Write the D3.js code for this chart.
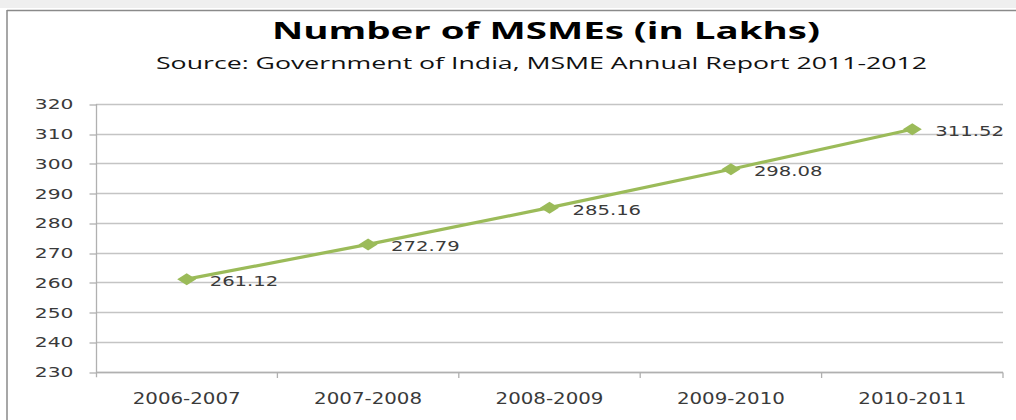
<!DOCTYPE html>
<html>
<head>
<meta charset="utf-8">
<script src="https://cdn.jsdelivr.net/npm/d3@7"></script>
<style>
  html, body { margin: 0; padding: 0; background: #fff; }
  svg { display: block; }
</style>
</head>
<body>
<svg id="chart" width="1016" height="420"></svg>
<script>
// ---- data ----
const categories = ["2006-2007", "2007-2008", "2008-2009", "2009-2010", "2010-2011"];
const msmeValues = [261.12, 272.79, 285.16, 298.08, 311.52];
const yTicks = [230, 240, 250, 260, 270, 280, 290, 300, 310, 320];
const titleText = "Number of MSMEs (in Lakhs)";
const subtitleText = "Source: Government of India, MSME Annual Report 2011-2012";

(function () {
const svg = d3.select("#chart");
const W = 1016, H = 420;

// frame
svg.append("rect").attr("x", 0).attr("y", 0).attr("width", W).attr("height", 8).attr("fill", "#efefef");
svg.append("line").attr("x1", 7).attr("x2", W).attr("y1", 10.5).attr("y2", 10.5)
  .attr("stroke", "#8a8a8a").attr("stroke-width", 1.5);
svg.append("line").attr("x1", 7).attr("x2", 7).attr("y1", 10).attr("y2", H)
  .attr("stroke", "#8a8a8a").attr("stroke-width", 1.5);

const pL = 96, pR = 1003, pT = 104, pB = 371.7;
const x = d3.scaleBand().domain(categories).range([pL, pR]);
const y = d3.scaleLinear().domain([230, 320]).range([pB, pT]);

function stretch(sel, factor) {
  sel.each(function() {
    const len = this.getComputedTextLength();
    d3.select(this).attr("textLength", len * factor).attr("lengthAdjust", "spacingAndGlyphs");
  });
}

// gridlines
const grid = svg.append("g").attr("class", "grid");
grid.selectAll("line").data(yTicks).join("line")
  .attr("x1", pL).attr("x2", pR)
  .attr("y1", d => Math.round(y(d)) + 0.5).attr("y2", d => Math.round(y(d)) + 0.5)
  .attr("stroke", "#c4c4c4").attr("stroke-width", 1.3);

// y axis
const yAxis = d3.axisLeft(y).tickValues(yTicks).tickSize(7).tickPadding(16).tickFormat(d3.format("d"));
const gy = svg.append("g").attr("transform", `translate(${pL + 0.5},0)`).call(yAxis);
gy.select(".domain").remove();
gy.append("line").attr("x1", 0).attr("x2", 0).attr("y1", pT).attr("y2", pB + 5.5)
  .attr("stroke", "#b0b0b0").attr("stroke-width", 1.3);
gy.selectAll(".tick line").attr("stroke", "#b0b0b0").attr("stroke-width", 1.3)
  .attr("transform", d => `translate(0,${Math.round(y(d)) + 0.5 - y(d)})`);
gy.selectAll(".tick text")
  .attr("font-family", "DejaVu Sans").attr("font-size", 13.5).attr("fill", "#3a3a3a")
  .attr("dy", "0.36em")
  .call(stretch, 1.5);

// x axis
const gx = svg.append("g").attr("transform", `translate(0,${Math.round(pB) + 0.5})`);
gx.append("line").attr("x1", pL).attr("x2", pR).attr("y1", 0).attr("y2", 0)
  .attr("stroke", "#b0b0b0").attr("stroke-width", 1.3);
const bounds = categories.map(c => x(c)).concat([pR]);
gx.selectAll("line.tk").data(bounds.slice(1)).join("line").attr("class", "tk")
  .attr("x1", d => d).attr("x2", d => d).attr("y1", 0).attr("y2", 5.5)
  .attr("stroke", "#b0b0b0").attr("stroke-width", 1.3);
gx.selectAll("text").data(categories).join("text")
  .attr("x", d => x(d) + x.bandwidth() / 2).attr("y", 31.5)
  .attr("text-anchor", "middle")
  .attr("font-family", "DejaVu Sans").attr("font-size", 15).attr("fill", "#3a3a3a")
  .text(d => d)
  .call(stretch, 1.32);

// line
const cx = c => x(c) + x.bandwidth() / 2;
const lineGen = d3.line().x((d, i) => cx(categories[i])).y(d => y(d));
svg.append("path").datum(msmeValues)
  .attr("d", lineGen).attr("fill", "none")
  .attr("stroke", "#9bbb59").attr("stroke-width", 3.2).attr("stroke-linejoin", "round");

// markers (diamonds)
svg.selectAll("path.mk").data(msmeValues).join("path").attr("class", "mk")
  .attr("transform", (d, i) => `translate(${cx(categories[i])},${y(d)})`)
  .attr("d", "M-9.5,0 L0,-6 L9.5,0 L0,6 Z")
  .attr("fill", "#9bbb59");

// data labels
svg.selectAll("text.lbl").data(msmeValues).join("text").attr("class", "lbl")
  .attr("x", (d, i) => cx(categories[i]) + 23)
  .attr("y", d => y(d) + 7)
  .attr("font-family", "DejaVu Sans").attr("font-size", 14).attr("fill", "#3a3a3a")
  .text(d => d.toFixed(2))
  .call(stretch, 1.4);

// title & subtitle
svg.append("text").attr("x", 546).attr("y", 39).attr("text-anchor", "middle")
  .attr("font-family", "Open Sans").attr("font-weight", "bold").attr("font-size", 24)
  .attr("fill", "#000").text(titleText)
  .attr("textLength", 548).attr("lengthAdjust", "spacingAndGlyphs");
svg.append("text").attr("x", 541.5).attr("y", 68.5).attr("text-anchor", "middle")
  .attr("font-family", "Open Sans").attr("font-size", 16)
  .attr("fill", "#111").text(subtitleText)
  .attr("textLength", 771).attr("lengthAdjust", "spacingAndGlyphs");
})();
</script>
</body>
</html>
